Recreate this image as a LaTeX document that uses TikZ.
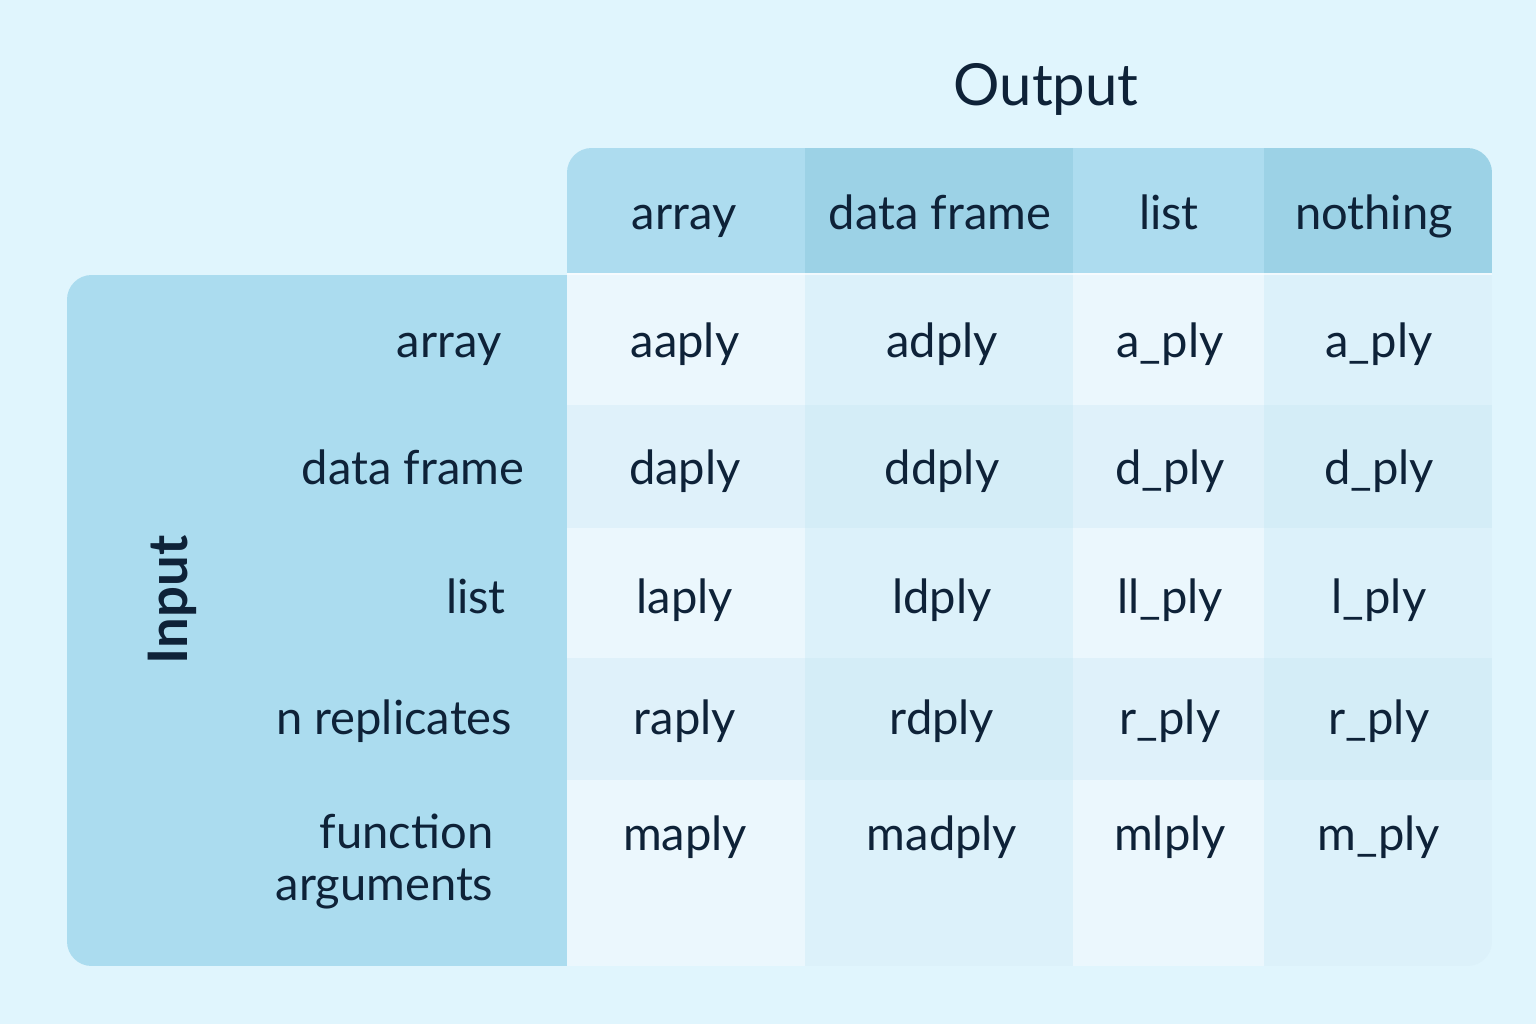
\documentclass[tikz,border=0pt]{standalone}
\usepackage{fontspec}
\setmainfont{Lato}
\definecolor{bgblue}{HTML}{E0F5FD}
\definecolor{headlite}{HTML}{ADDCEF}
\definecolor{headdeep}{HTML}{9CD2E6}
\definecolor{inpanel}{HTML}{ABDCEF}
\definecolor{celllite}{HTML}{EBF7FD}
\definecolor{celldeep}{HTML}{DCF1FA}
\definecolor{rowband}{HTML}{BFE3F2}
\definecolor{inkblue}{HTML}{0E2238}

\begin{document}
\begin{tikzpicture}[x=0.01cm,y=-0.01cm,
    every node/.style={text=inkblue,anchor=base,inner sep=0pt,font=\fontsize{13.4}{14.8}\selectfont},
    title/.style={font=\fontsize{16.5}{20}\selectfont}]
            \fill[bgblue] (0,0) rectangle (1536,1024);
            \useasboundingbox (0,0) rectangle (1536,1024);
            % table body, header and input panel
            \begin{scope}
                \clip[rounded corners=7pt] (67,966) -- (67,275) -- (567,275) -- (567,148) -- (1492,148) -- (1492,966) -- cycle;
                \fill[inpanel] (67,275) rectangle (567,966);
                \foreach \xa/\xb/\hc/\cc in {567/805/headlite/celllite, 805/1073/headdeep/celldeep, 1073/1264/headlite/celllite, 1264/1492/headdeep/celldeep} {
                    \fill[\hc] (\xa,148) rectangle (\xb,273);
                    \fill[\cc] (\xa,273) rectangle (\xb,966);
                }
                \fill[rowband, fill opacity=0.25] (567,405) rectangle (1492,528);
                \fill[rowband, fill opacity=0.25] (567,658) rectangle (1492,780);
                \draw[white, opacity=0.6, thick] (567,274) -- (1492,274);
            \end{scope}
            \node[title] (output) at (1046,105) {Output};
            \node[title, anchor=center, font=\fontsize{15.5}{18}\selectfont\bfseries, rotate=90] (input) at (172,600) {Input};
            % column heads
            \foreach \x/\name/\txt in {684/array/array, 940/frame/data frame, 1169/list/list, 1374/none/nothing}
                \node (h-\name) at (\x,229) {\txt};
            % row heads
            \node (r-array) at (449,357) {array};
            \node (r-frame) at (413,484) {data frame};
            \node (r-list) at (476,613) {list};
            \node (r-rep) at (394,734) {n replicates};
            \node[align=right, anchor=north east] (r-fun) at (494,813) {function\\arguments};
            % cells
            \foreach \y/\r/\a/\b/\c/\d in {357/1/aaply/adply/a\_ply/a\_ply, 484/2/daply/ddply/d\_ply/d\_ply, 613/3/laply/ldply/ll\_ply/l\_ply, 734/4/raply/rdply/r\_ply/r\_ply, 850/5/maply/madply/mlply/m\_ply} {
                \node (c\r-1) at (685,\y) {\a};
                \node (c\r-2) at (942,\y) {\b};
                \node (c\r-3) at (1170,\y) {\c};
                \node (c\r-4) at (1379,\y) {\d};
            }
        \end{tikzpicture}
\end{document}
